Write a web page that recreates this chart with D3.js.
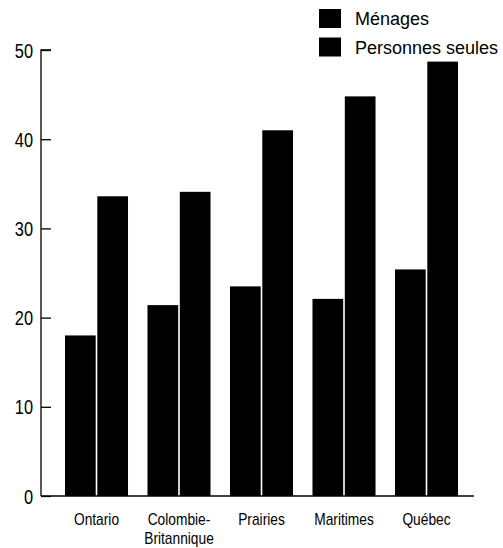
<!DOCTYPE html>
<html><head><meta charset="utf-8">
<script src="https://cdn.jsdelivr.net/npm/d3@7/dist/d3.min.js"></script>
<style>body{margin:0;background:#fff}svg{display:block}</style>
</head><body>
<svg id="c" width="503" height="548"></svg>
<script>
const categories = [["Ontario"], ["Colombie-", "Britannique"], ["Prairies"], ["Maritimes"], ["Québec"]];
const seriesNames = ["Ménages", "Personnes seules"];
const menages = [18.0, 21.4, 23.5, 22.1, 25.4];
const personnesSeules = [33.6, 34.1, 41.0, 44.8, 48.7];
const yTicks = [0, 10, 20, 30, 40, 50];

const svg = d3.select("#c");
const keys = categories.map(c => c.join(""));
const x = d3.scaleBand().domain(keys).range([55.25, 467.75]).paddingInner(0.236).paddingOuter(0.118);
const y = d3.scaleLinear().domain([0, 50]).range([496, 50]);
const xs = d3.scaleBand().domain(seriesNames).range([0, x.bandwidth()]).paddingInner(0.05);

const axisFont = "'Liberation Sans',Arial,sans-serif";

// bars
const data = [];
keys.forEach((k, i) => {
  data.push({k, s: seriesNames[0], v: menages[i]});
  data.push({k, s: seriesNames[1], v: personnesSeules[i]});
});
svg.append("g").selectAll("rect").data(data).join("rect")
  .attr("x", d => x(d.k) + xs(d.s))
  .attr("width", xs.bandwidth())
  .attr("y", d => y(d.v))
  .attr("height", d => y(0) - y(d.v))
  .attr("fill", "#000");

// y axis
const yAxis = d3.axisRight(y).tickValues(yTicks).tickSize(10).tickFormat(d3.format("d"));
const gy = svg.append("g").attr("transform", "translate(41,0)").call(yAxis);
gy.select(".domain").attr("d", `M10,${y(50)}H0V${y(0)}`).attr("stroke", "#000").attr("stroke-width", 1.3);
gy.selectAll(".tick line").attr("stroke", "#000").attr("stroke-width", 1.3);
gy.selectAll(".tick text").attr("x", 0).attr("y", 0)
  .attr("transform", "translate(-8,0) scale(0.84,1)")
  .attr("text-anchor", "end").attr("dy", "0.36em")
  .attr("font-family", axisFont).attr("font-size", 19.5).attr("fill", "#000");

// baseline
svg.append("line").attr("x1", 41).attr("x2", 474).attr("y1", y(0)).attr("y2", y(0))
  .attr("stroke", "#000").attr("stroke-width", 1.5);

// category labels (each line its own text)
const gl = svg.append("g");
categories.forEach((lines, i) => {
  const cx = x(keys[i]) + x.bandwidth() / 2;
  lines.forEach((ln, j) => {
    gl.append("text")
      .attr("transform", `translate(${cx},${525 + j * 19}) scale(0.86,1)`)
      .attr("text-anchor", "middle")
      .attr("font-family", axisFont).attr("font-size", 16).attr("fill", "#000")
      .text(ln);
  });
});

// legend
const lg = svg.append("g").selectAll("g").data(seriesNames).join("g")
  .attr("transform", (d, i) => `translate(319,${9 + i * 28.5})`);
lg.append("rect").attr("width", 22).attr("height", 19).attr("fill", "#000");
lg.append("text").attr("x", 36).attr("y", 16).text(d => d)
  .attr("font-family", "'Liberation Sans',Arial,sans-serif").attr("font-size", 18).attr("fill", "#000");
</script>
</body></html>
